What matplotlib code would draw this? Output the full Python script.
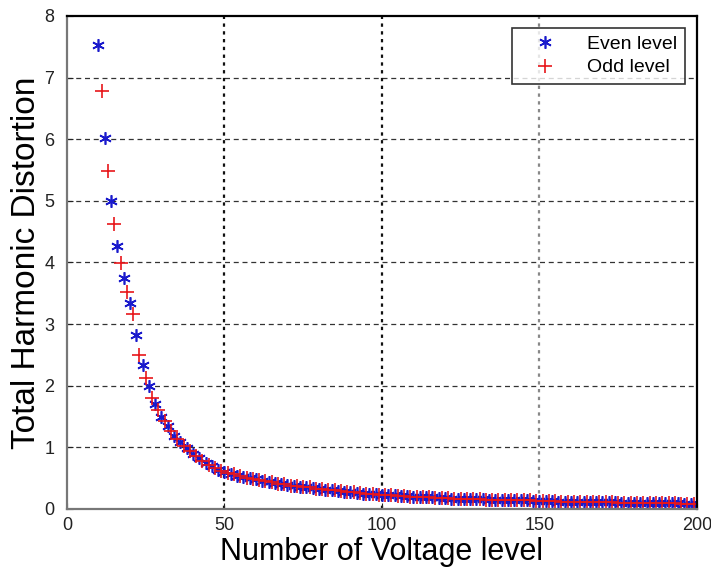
import numpy as np
import matplotlib.pyplot as plt

# THD against number of voltage levels, even and odd level counts
even_levels = np.arange(10, 201, 2)
even_thd = [7.53, 6.02, 4.99, 4.26, 3.75, 3.35, 2.82, 2.33, 2.00, 1.70,
            1.50, 1.34, 1.19, 1.08, 0.99, 0.90, 0.82, 0.75, 0.69, 0.64,
            0.60, 0.57, 0.54, 0.52, 0.50, 0.48, 0.46, 0.44, 0.42, 0.40,
            0.39, 0.38, 0.36, 0.35, 0.34, 0.33, 0.31, 0.30, 0.29, 0.28,
            0.27, 0.26, 0.25, 0.25, 0.24, 0.23, 0.22, 0.22, 0.21, 0.21,
            0.20, 0.20, 0.19, 0.19, 0.18, 0.18, 0.17, 0.17, 0.17, 0.16,
            0.16, 0.16, 0.15, 0.15, 0.15, 0.14, 0.14, 0.14, 0.14, 0.13,
            0.13, 0.13, 0.13, 0.12, 0.12, 0.12, 0.12, 0.12, 0.11, 0.11,
            0.11, 0.11, 0.11, 0.10, 0.10, 0.10, 0.10, 0.10, 0.09, 0.09,
            0.09, 0.09, 0.09, 0.08, 0.08, 0.08]

odd_levels = np.arange(11, 200, 2)
odd_thd = [6.79, 5.49, 4.63, 3.99, 3.52, 3.16, 2.50, 2.13, 1.80, 1.60,
           1.42, 1.26, 1.13, 1.03, 0.94, 0.86, 0.78, 0.72, 0.66, 0.62,
           0.59, 0.56, 0.53, 0.51, 0.49, 0.47, 0.45, 0.43, 0.41, 0.40,
           0.38, 0.37, 0.36, 0.35, 0.33, 0.32, 0.31, 0.30, 0.29, 0.28,
           0.27, 0.26, 0.25, 0.24, 0.23, 0.23, 0.22, 0.21, 0.21, 0.20,
           0.20, 0.19, 0.19, 0.18, 0.18, 0.18, 0.17, 0.17, 0.16, 0.16,
           0.16, 0.15, 0.15, 0.15, 0.15, 0.14, 0.14, 0.14, 0.14, 0.13,
           0.13, 0.13, 0.13, 0.12, 0.12, 0.12, 0.12, 0.12, 0.11, 0.11,
           0.11, 0.11, 0.10, 0.10, 0.10, 0.10, 0.10, 0.09, 0.09, 0.09,
           0.09, 0.09, 0.08, 0.08, 0.08]

xticks = [0, 50, 100, 150, 200]
yticks = [0, 1, 2, 3, 4, 5, 6, 7, 8]

plt.rcParams['font.family'] = ['Liberation Sans', 'DejaVu Sans']

fig = plt.figure(figsize=(7.11, 5.78), dpi=100)
ax = fig.add_axes([0.0942, 0.1194, 0.886, 0.853])

ax.plot(even_levels, even_thd, linestyle='none', marker=(6, 2, 0),
        markersize=9, markeredgewidth=1.2, color='#1a1acc', label='Even level')
ax.plot(odd_levels, odd_thd, linestyle='none', marker='+',
        markersize=10, markeredgewidth=1.2, color='#e8161a', label='Odd level')

ax.set_xlim(0, 200)
ax.set_ylim(0, 8)
ax.set_xticks(xticks)
ax.set_yticks(yticks)
ax.tick_params(direction='in', length=4, labelsize=13, colors='#222222')
ax.tick_params(axis='y', pad=9)
ax.tick_params(axis='x', pad=6)

# matlab-style grid: dashed horizontals, dotted verticals
for y in yticks[1:-1]:
    ax.axhline(y, color='#333333', linestyle=(0, (4, 3)), linewidth=0.9, zorder=0)
for x, c in zip(xticks[1:-1], ['#111111', '#111111', '#888888']):
    ax.axvline(x, color=c, linestyle=(0, (1.5, 2)), linewidth=1.6, zorder=0)

for side in ['left', 'bottom']:
    ax.spines[side].set_color('#777777')
for side in ['top', 'right']:
    ax.spines[side].set_color('black')
for s in ax.spines.values():
    s.set_linewidth(1.6)

ax.set_xlabel('Number of Voltage level', fontsize=22, labelpad=2)
ax.set_ylabel('Total Harmonic Distortion', fontsize=24, labelpad=2)

leg = ax.legend(loc='upper right', fontsize=14, frameon=True, fancybox=False,
                edgecolor='black', borderaxespad=0.6, handlelength=2.6,
                handletextpad=0.9, borderpad=0.4, labelspacing=0.3)
leg.get_frame().set_linewidth(1.2)

fig.savefig('out.png', dpi=100)
